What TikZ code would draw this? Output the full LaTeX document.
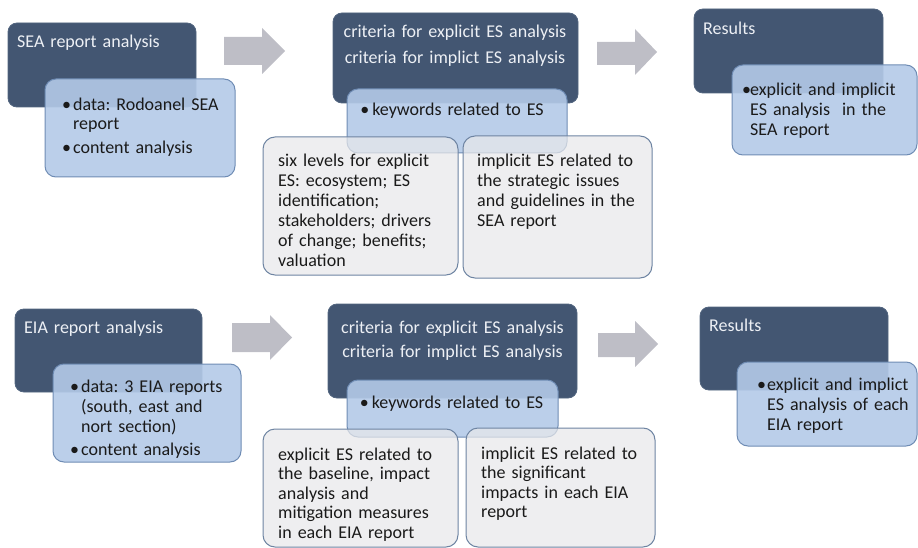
\documentclass[tikz,border=0pt]{standalone}
\usepackage{fontspec}
\setmainfont{Carlito}
\usetikzlibrary{fit}

\definecolor{slate}{HTML}{435672}
\definecolor{slateedge}{HTML}{52657F}
\definecolor{subfill}{HTML}{B4CAE8}
\definecolor{subedge}{HTML}{6F8CB4}
\definecolor{notefill}{HTML}{E8E8EA}
\definecolor{noteedge}{HTML}{6E84A2}
\definecolor{flowgray}{HTML}{BEBEC6}
\definecolor{ink}{HTML}{1A1A1A}
\definecolor{headink}{HTML}{EDF0F5}

% bullet with a fixed hanging width
\newcommand\itm{\makebox[11pt][l]{\textbullet}}

\begin{document}
\frenchspacing
\begin{tikzpicture}[x=1pt,y=-1pt,
  head/.style={draw=slateedge, fill=slate, line width=0.8pt, rounded corners=9pt, inner sep=0pt, outer sep=0pt},
  sub/.style={draw=subedge, fill=subfill, fill opacity=0.9, line width=1pt, rounded corners=11pt, inner sep=0pt, outer sep=0pt},
  note/.style={draw=noteedge, fill=notefill, fill opacity=0.72, line width=1pt, rounded corners=12pt, inner sep=0pt, outer sep=0pt},
  flow/.style={fill=flowgray, draw=none},
  lbl/.style={inner sep=0pt, anchor=base west, align=left, text width=200pt, text=ink,
              font=\fontsize{18}{20}\selectfont},
  hdr/.style={lbl, text=headink},
]
\useasboundingbox (0,0) rectangle (918,548);

% ---------------- SEA row ----------------
\node[head, fit={(8,23) (196,107)}] (seaHead) {};
\node[sub,  fit={(45,79) (235,177)}] (seaData) {};
\node[hdr] (seaHeadT) at (17,47.5) {SEA report analysis};
\node[lbl, font=\fontsize{18}{19.5}\selectfont] (seaDataT) at (62,110.5)
  {\itm data: Rodoanel SEA\\\hspace*{11pt}report\\[4pt]\itm content analysis};

\fill[flow] (224,37) -- (262,37) -- (262,28) -- (285,51) -- (262,74) -- (262,65) -- (224,65) -- cycle;

\node[head, fit={(333,13) (578,103)}] (seaCrit) {};
\node[sub,  fit={(347,89) (567,153)}] (seaKey) {};
\node[note, fit={(263,137) (458,275)}] (seaExpl) {};
\node[note, fit={(463,136) (652,278)}] (seaImpl) {};
\node[hdr, anchor=base, align=center, text width=240pt] (seaCritT) at (455,37.5)
  {criteria for explicit ES analysis\\[6.5pt]criteria for implict ES analysis};
\node[lbl, anchor=base, align=center, text width=215pt] (seaKeyT) at (452,116)
  {\makebox[12pt][l]{\textbullet}keywords related to ES};
\node[lbl] (seaExplT) at (278,166.5)
  {six levels for explicit\\ES: ecosystem; ES\\identification;\\stakeholders; drivers\\of change; benefits;\\valuation};
\node[lbl] (seaImplT) at (477,166.5)
  {implicit ES related to\\the strategic issues\\and guidelines in the\\SEA report};

\fill[flow] (597,42) -- (635,42) -- (635,29) -- (657,52) -- (635,75) -- (635,65) -- (597,65) -- cycle;

\node[head, fit={(694,9) (883,93)}] (seaRes) {};
\node[sub,  fit={(732,65) (917,155)}] (seaResList) {};
\node[hdr] (seaResT) at (703,35) {Results};
\node[lbl, font=\fontsize{18}{19.7}\selectfont] (seaResListT) at (742,96)
  {\makebox[8pt][l]{\textbullet}explicit and implicit\\\hspace*{8pt}ES analysis\ \ in the\\\hspace*{8pt}SEA report};

% ---------------- EIA row ----------------
\node[head, fit={(15,309) (202,392)}] (eiaHead) {};
\node[sub,  fit={(53,364) (241,462)}] (eiaData) {};
\node[hdr] (eiaHeadT) at (24,333.5) {EIA report analysis};
\node[lbl, font=\fontsize{18}{20.3}\selectfont] (eiaDataT) at (70,392.3)
  {\itm data: 3 EIA reports\\\hspace*{11pt}(south, east and\\\hspace*{11pt}nort section)\\[2.7pt]\itm content analysis};

\fill[flow] (232,323) -- (270,323) -- (270,315) -- (292,337.5) -- (270,360) -- (270,352) -- (232,352) -- cycle;

\node[head, fit={(328,304) (577,398)}] (eiaCrit) {};
\node[sub,  fit={(347,380) (558,437)}] (eiaKey) {};
\node[note, fit={(263,429) (458,547)}] (eiaExpl) {};
\node[note, fit={(466,428) (655,547)}] (eiaImpl) {};
\node[hdr, anchor=base, align=center, text width=240pt] (eiaCritT) at (452.5,333)
  {criteria for explicit ES analysis\\[4pt]criteria for implict ES analysis};
\node[lbl, anchor=base, align=center, text width=205pt] (eiaKeyT) at (451.5,408)
  {\makebox[12pt][l]{\textbullet}keywords related to ES};
\node[lbl, font=\fontsize{18}{19.5}\selectfont] (eiaExplT) at (278,460)
  {explicit ES related to\\the baseline, impact\\analysis and\\mitigation measures\\in each EIA report};
\node[lbl, font=\fontsize{18}{19.5}\selectfont] (eiaImplT) at (481,459)
  {implicit ES related to\\the significant\\impacts in each EIA\\report};

\fill[flow] (598,333) -- (635,333) -- (635,321) -- (658,344) -- (635,367) -- (635,357) -- (598,357) -- cycle;

\node[head, fit={(700,307) (888,390)}] (eiaRes) {};
\node[sub,  fit={(737,362) (917,446)}] (eiaResList) {};
\node[hdr] (eiaResT) at (709,331.5) {Results};
\node[lbl] (eiaResListT) at (757,390.7)
  {\makebox[10pt][l]{\textbullet}explicit and implict\\\hspace*{10pt}ES analysis of each\\\hspace*{10pt}EIA report};
\end{tikzpicture}
\end{document}
